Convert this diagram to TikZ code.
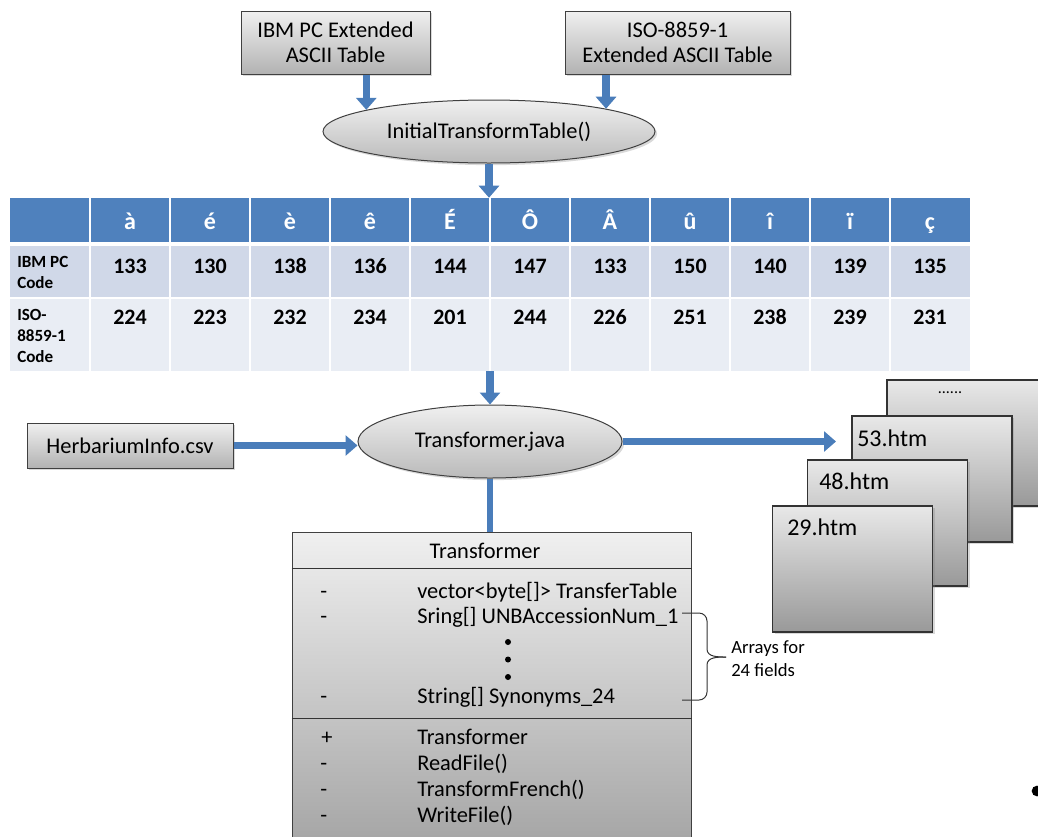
\documentclass[tikz,border=0pt]{standalone}
\usepackage{fontspec}
\setmainfont{Carlito}
\usetikzlibrary{arrows.meta,shapes.geometric,shadows,calc}

\definecolor{hdrblue}{HTML}{4F81BD}
\definecolor{rowa}{HTML}{D0D8E8}
\definecolor{rowb}{HTML}{E9EDF4}
\definecolor{flowblue}{HTML}{4A7DBA}

\newcommand\szmain{\fontsize{16.8}{19}\selectfont}
\newcommand\szcell{\fontsize{16.5}{18}\selectfont}
\newcommand\szhead{\fontsize{18}{20}\selectfont}
\newcommand\szlabel{\fontsize{12.8}{15.75}\selectfont}
\newcommand\sznote{\fontsize{14}{17.25}\selectfont}
\newcommand\szfile{\fontsize{18}{20}\selectfont}

\begin{document}
\begin{tikzpicture}[x=0.75pt,y=-0.75pt,
  softshadow/.style={drop shadow={shadow xshift=1.6pt,shadow yshift=-1.6pt,opacity=0.3}},
  graybox/.style={rectangle, draw=black!75, line width=0.75pt, top color=black!6,
    bottom color=black!30, softshadow, font=\szmain, align=center, inner sep=0pt},
  grayoval/.style={ellipse, draw=black!75, line width=0.75pt, top color=black!6,
    bottom color=black!27, softshadow, font=\szmain, inner sep=0pt},
  filebox/.style={rectangle, draw=black!80, line width=0.9pt, top color=black!9,
    bottom color=black!40, softshadow, minimum width=120pt, minimum height=94.5pt, inner sep=0pt},
  filename/.style={anchor=west, font=\szfile, inner sep=0pt},
  flow/.style={draw=flowblue, line width=5.6pt, -{Triangle[length=9pt,width=15pt]}},
  link/.style={draw=flowblue, line width=4.5pt},
  hdr/.style={anchor=base, font=\szhead\bfseries, text=white, inner sep=0pt},
  val/.style={anchor=base, font=\szcell\bfseries, inner sep=0pt},
  rowlabel/.style={anchor=base west, font=\szlabel\bfseries, inner sep=0pt},
  member/.style={anchor=base west, font=\szmain, inner sep=0pt},
  vdot/.style={circle, fill=black, inner sep=0pt, minimum size=4.5pt},
]
\useasboundingbox (0,0) rectangle (1038,836);
\clip (0,0) rectangle (1038,836);

% ---- source tables and the first transform ----
\node[graybox, minimum width=141.75pt, minimum height=47.25pt] (ibm) at (335.5,42.5)
  {IBM PC Extended\\ASCII Table};
\node[graybox, minimum width=168.75pt, minimum height=47.25pt] (iso) at (677.5,42.5)
  {ISO-8859-1\\Extended ASCII Table};
\node[grayoval, minimum width=249pt, minimum height=47.25pt] (init) at (489,131.5)
  {InitialTransformTable()};

\draw[flow] (ibm.south -| init.170) -- (init.170);
\draw[flow] (iso.south -| init.11) -- (init.11);

% ---- character code table ----
\node[minimum width=720pt, minimum height=129.75pt, inner sep=0pt] (tbl) at (490,284.5) {};
\fill[hdrblue] (10,198) rectangle (970,242);
\fill[rowa] (10,246) rectangle (970,297);
\fill[rowb] (10,298.5) rectangle (970,371);
\foreach \i in {1,...,11}
  \draw[white, line width=1.2pt] ({10+80*\i},198) -- ({10+80*\i},371);

\foreach \ch [count=\i] in {à,é,è,ê,É,Ô,Â,û,î,ï,ç}
  \node[hdr] (ch\i) at ({50+80*\i},229) {\ch};
\foreach \v [count=\i] in {133,130,138,136,144,147,133,150,140,139,135}
  \node[val] (ibmv\i) at ({50+80*\i},273) {\v};
\foreach \v [count=\i] in {224,223,232,234,201,244,226,251,238,239,231}
  \node[val] (isov\i) at ({50+80*\i},324) {\v};

\node[rowlabel] (ra1) at (17,267) {IBM PC};
\node[rowlabel] (ra2) at (17,288) {Code};
\node[rowlabel] (rb1) at (17,320) {ISO-};
\node[rowlabel] (rb2) at (17,341) {8859-1};
\node[rowlabel] (rb3) at (17,362) {Code};

\draw[flow] (init.south) -- (init.south |- tbl.north);

% ---- transformer program ----
\node[grayoval, minimum width=198pt, minimum height=54.75pt] (trans) at (490,441.5)
  {Transformer.java};
\node[graybox, minimum width=154.5pt, minimum height=33.75pt] (herb) at (130,445.5)
  {HerbariumInfo.csv};

\draw[flow] (tbl.south -| trans.north) -- (trans.north);
\draw[flow] (herb.east) -- (herb.east -| trans.west);
\coordinate (outtip) at (836,441.5);
\draw[flow] (trans.east) -- (outtip);

% ---- generated pages, back to front ----
\node[filebox] (hdots) at (967,443) {};
\node[font=\fontsize{12}{14}\selectfont, inner sep=0pt] (tdots) at (950,393) {......};
\node[filebox] (h53) at (932,479) {};
\node[filename] (t53) at (857,438) {53.htm};
\node[filebox] (h48) at (887.5,523) {};
\node[filename] (t48) at (819,481) {48.htm};
\node[filebox] (h29) at (852.5,569) {};
\node[filename] (t29) at (787,527) {29.htm};

% ---- class box ----
\node[rectangle, draw=black!75, line width=0.75pt, top color=black!6, bottom color=black!36,
  minimum width=299.25pt, minimum height=240pt, anchor=north, inner sep=0pt] (cls) at (491.5,532) {};
\draw[link] (trans.south) -- (trans.south |- cls.north);
\draw[black!80, line width=0.75pt] (cls.west |- 0,568) -- (cls.east |- 0,568);
\draw[black!80, line width=0.75pt] (cls.west |- 0,718) -- (cls.east |- 0,718);

\node[anchor=base, font=\szmain, inner sep=0pt] (clsname) at (485,558) {Transformer};

\node[member] (s1) at (320,598) {-};
\node[member] (f1) at (417,598) {vector<byte[]> TransferTable};
\node[member] (s2) at (320,623) {-};
\node[member] (f2) at (417,623) {Sring[] UNBAccessionNum\_1};
\node[vdot] (d1) at (508,642) {};
\node[vdot] (d2) at (508,659.5) {};
\node[vdot] (d3) at (508,677) {};
\node[member] (s3) at (320,703) {-};
\node[member] (f3) at (417,703) {String[] Synonyms\_24};

\node[member] (s4) at (321,744) {+};
\node[member] (g1) at (417,744) {Transformer};
\node[member] (s5) at (320,770) {-};
\node[member] (g2) at (417,770) {ReadFile()};
\node[member] (s6) at (320,796) {-};
\node[member] (g3) at (417,796) {TransformFrench()};
\node[member] (s7) at (320,822) {-};
\node[member] (g4) at (417,822) {WriteFile()};

% ---- brace over the field arrays ----
\coordinate (bt) at (682,613);
\coordinate (bb) at (682,700);
\coordinate (btip) at (726,657);
\draw[black!80, line width=0.75pt] (bt) -- (699,613) to[out=0,in=90] (707,621)
  -- (707,649) to[out=270,in=180] (btip);
\draw[black!80, line width=0.75pt] (bb) -- (699,700) to[out=0,in=270] (707,692)
  -- (707,665) to[out=90,in=180] (btip);
\node[anchor=west, align=left, font=\sznote, inner sep=0pt] (arrays) at (731,658.5)
  {Arrays for\\24 fields};

\node[circle, fill=black, inner sep=0pt, minimum size=8pt] (bullet) at (1037,791) {};
\end{tikzpicture}
\end{document}
